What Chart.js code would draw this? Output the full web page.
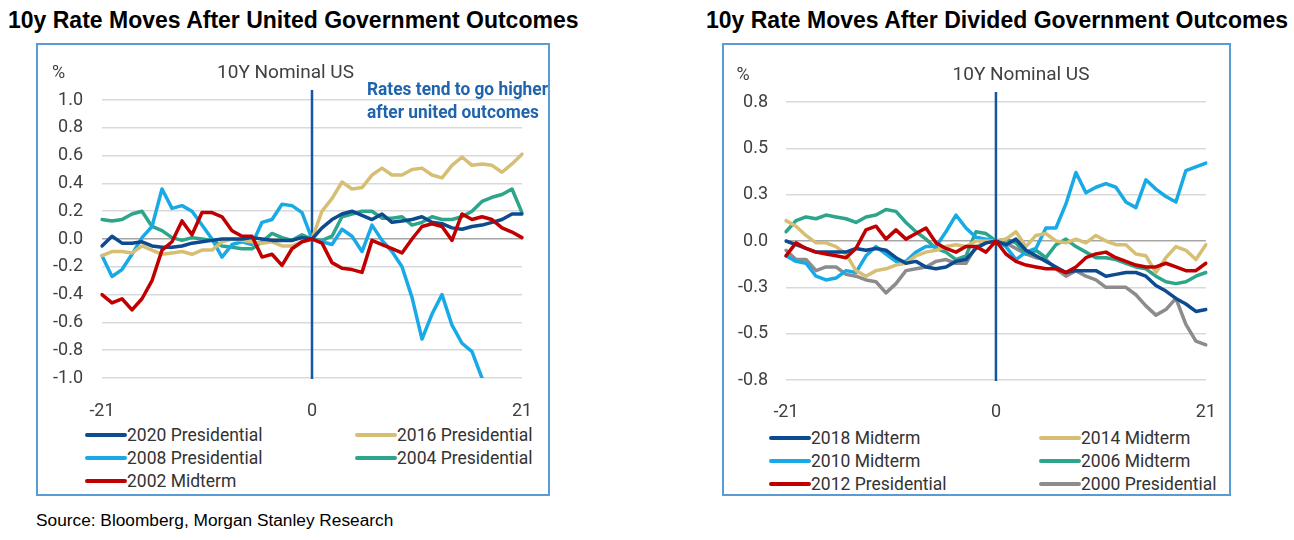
<!DOCTYPE html>
<html>
<head>
<meta charset="utf-8">
<script src="https://cdn.jsdelivr.net/npm/chart.js@4.4.1/dist/chart.umd.min.js"></script>
<style>
  body { margin: 0; width: 1294px; height: 540px; background: #fff; position: relative; overflow: hidden; font-family: Roboto, sans-serif; }
  .title { position: absolute; top: 7px; font: bold 23px "Liberation Sans", Arial, sans-serif; color: #000; white-space: nowrap; }
  .box { position: absolute; box-sizing: border-box; border: 2px solid #5b9bd5; }
  canvas { position: absolute; }
  .leg { position: absolute; font-size: 17.5px; color: #333; white-space: nowrap; line-height: 20px; }
  .leg span { display: inline-block; width: 42px; height: 4px; border-radius: 2px; vertical-align: middle; margin-top: -2px; }
  #source { position: absolute; left: 36px; top: 510px; font: 17.3px "Liberation Sans", Arial, sans-serif; color: #000; }
</style>
</head>
<body>
<div class="title" style="left:8px">10y Rate Moves After United Government Outcomes</div>
<div class="title" style="left:706px">10y Rate Moves After Divided Government Outcomes</div>
<div class="box" style="left:36px; top:43px; width:514px; height:453px"></div>
<div class="box" style="left:722px; top:43px; width:509px; height:453px"></div>
<canvas id="unitedChart" width="513" height="380" style="left:36px; top:44px"></canvas>
<canvas id="dividedChart" width="508" height="380" style="left:722px; top:44px"></canvas>
<div id="source">Source: Bloomberg, Morgan Stanley Research</div>

<script>
// Days around the election (x axis)
const days = [-21, -20, -19, -18, -17, -16, -15, -14, -13, -12, -11, -10, -9, -8, -7, -6, -5, -4, -3, -2, -1,
  0, 1, 2, 3, 4, 5, 6, 7, 8, 9, 10, 11, 12, 13, 14, 15, 16, 17, 18, 19, 20, 21]
const dayTicks = [-21, 0, 21]

// United government outcomes (% change in 10y yield)
const pres2020 = [-0.05, 0.02, -0.03, -0.03, -0.02, -0.05, -0.06, -0.06, -0.05, -0.03, -0.02, -0.01, 0, 0, 0, 0.01, 0, -0.01, -0.01, -0.01, 0.01,
  0, 0.08, 0.14, 0.18, 0.2, 0.17, 0.14, 0.18, 0.12, 0.13, 0.14, 0.16, 0.12, 0.11, 0.08, 0.07, 0.09, 0.1, 0.12, 0.14, 0.18, 0.18]
const pres2016 = [-0.12, -0.09, -0.09, -0.1, -0.05, -0.08, -0.11, -0.1, -0.09, -0.11, -0.08, -0.08, -0.02, 0, -0.01, -0.02, -0.03, -0.02, -0.05, -0.05, -0.02,
  0, 0.2, 0.29, 0.41, 0.36, 0.37, 0.46, 0.51, 0.46, 0.46, 0.5, 0.51, 0.46, 0.44, 0.53, 0.59, 0.53, 0.54, 0.53, 0.48, 0.54, 0.61]
const pres2008 = [-0.12, -0.27, -0.22, -0.11, 0.01, 0.09, 0.36, 0.22, 0.24, 0.2, 0.1, 0, -0.13, -0.04, -0.02, -0.04, 0.12, 0.14, 0.25, 0.24, 0.19,
  0, -0.02, -0.04, 0.07, 0.02, -0.09, 0.1, -0.01, -0.09, -0.2, -0.42, -0.72, -0.54, -0.4, -0.62, -0.75, -0.81, -1.0, -1.1, -1.12, -1.08, -1.02]
const pres2004 = [0.14, 0.13, 0.14, 0.18, 0.2, 0.09, 0.06, 0.01, -0.01, 0.01, 0, -0.01, -0.05, -0.06, -0.07, -0.07, -0.02, 0.04, 0.01, -0.01, 0.03,
  0, -0.01, 0.02, 0.16, 0.18, 0.2, 0.2, 0.15, 0.15, 0.16, 0.1, 0.12, 0.16, 0.14, 0.14, 0.16, 0.2, 0.27, 0.3, 0.32, 0.36, 0.19]
const mid2002 = [-0.4, -0.46, -0.43, -0.51, -0.43, -0.3, -0.08, -0.02, 0.13, 0.03, 0.19, 0.19, 0.16, 0.06, 0.02, 0.02, -0.13, -0.11, -0.19, -0.07, -0.02,
  0, -0.03, -0.17, -0.21, -0.22, -0.24, -0.01, -0.04, -0.07, -0.1, 0, 0.09, 0.11, 0.09, -0.01, 0.18, 0.14, 0.16, 0.14, 0.08, 0.05, 0.01]

// Divided government outcomes
const mid2018 = [0, -0.02, -0.04, -0.06, -0.06, -0.06, -0.06, -0.04, -0.05, -0.04, -0.05, -0.09, -0.12, -0.11, -0.14, -0.15, -0.14, -0.11, -0.1, -0.04, -0.01,
  0, -0.02, 0.01, -0.05, -0.08, -0.11, -0.14, -0.17, -0.16, -0.16, -0.16, -0.19, -0.18, -0.17, -0.17, -0.19, -0.24, -0.27, -0.31, -0.34, -0.38, -0.37]
const mid2014 = [0.11, 0.08, 0.03, -0.01, -0.01, -0.03, -0.07, -0.16, -0.19, -0.16, -0.15, -0.13, -0.12, -0.08, -0.06, -0.05, -0.03, -0.02, -0.03, 0, 0,
  0, 0.01, 0.05, -0.03, 0.03, 0.04, 0, -0.01, 0.01, -0.01, 0.03, 0, -0.02, -0.02, -0.07, -0.08, -0.17, -0.09, -0.03, -0.05, -0.1, -0.02]
const mid2010 = [-0.08, -0.11, -0.12, -0.19, -0.21, -0.2, -0.16, -0.17, -0.08, -0.03, -0.07, -0.11, -0.11, -0.06, -0.03, -0.03, 0.05, 0.14, 0.07, 0.02, 0.01,
  0, -0.03, -0.1, -0.06, -0.04, 0.07, 0.07, 0.2, 0.37, 0.26, 0.29, 0.31, 0.29, 0.21, 0.18, 0.33, 0.28, 0.24, 0.21, 0.38, 0.4, 0.42]
const mid2006 = [0.05, 0.11, 0.13, 0.12, 0.14, 0.13, 0.12, 0.1, 0.13, 0.14, 0.17, 0.16, 0.1, 0.05, 0.01, -0.04, -0.06, -0.1, -0.08, 0.05, 0.04,
  0, 0.01, -0.01, -0.07, -0.05, -0.09, -0.02, 0.01, -0.03, -0.06, -0.09, -0.09, -0.1, -0.12, -0.14, -0.15, -0.19, -0.22, -0.23, -0.22, -0.19, -0.17]
const pres2012 = [-0.08, -0.01, -0.04, -0.06, -0.07, -0.08, -0.09, -0.04, 0.06, 0.08, 0.01, 0.06, 0.01, 0.04, 0.07, -0.01, -0.04, -0.06, -0.03, -0.03, -0.06,
  0, -0.07, -0.11, -0.13, -0.14, -0.15, -0.15, -0.17, -0.14, -0.09, -0.07, -0.06, -0.09, -0.11, -0.13, -0.14, -0.14, -0.12, -0.14, -0.16, -0.16, -0.12]
const pres2000 = [-0.05, -0.1, -0.1, -0.16, -0.14, -0.14, -0.18, -0.19, -0.21, -0.22, -0.28, -0.23, -0.16, -0.15, -0.14, -0.11, -0.1, -0.12, -0.12, -0.03, -0.01,
  0, -0.01, -0.04, -0.07, -0.09, -0.1, -0.15, -0.19, -0.16, -0.19, -0.21, -0.25, -0.25, -0.25, -0.29, -0.35, -0.4, -0.37, -0.31, -0.45, -0.54, -0.56]

// Colours
const navy = '#0d4b91'
const tan = '#d6bf74'
const sky = '#17aae6'
const green = '#2ca58a'
const red = '#c00000'
const grey = '#8c8c8c'

// Legend order (row by row, two columns)
const unitedSeries = [
  { label: '2020 Presidential', data: pres2020, color: navy },
  { label: '2016 Presidential', data: pres2016, color: tan },
  { label: '2008 Presidential', data: pres2008, color: sky },
  { label: '2004 Presidential', data: pres2004, color: green },
  { label: '2002 Midterm', data: mid2002, color: red }
]
const dividedSeries = [
  { label: '2018 Midterm', data: mid2018, color: navy },
  { label: '2014 Midterm', data: mid2014, color: tan },
  { label: '2010 Midterm', data: mid2010, color: sky },
  { label: '2006 Midterm', data: mid2006, color: green },
  { label: '2012 Presidential', data: pres2012, color: red },
  { label: '2000 Presidential', data: pres2000, color: grey }
]

// Draws "%", the panel name, the zero-day line and the note
const panelText = {
  id: 'panelText',
  beforeDatasetsDraw(chart, args, opts) {
    const { ctx, chartArea, scales } = chart
    const x0 = scales.x.getPixelForValue(days.indexOf(0))
    ctx.save()
    ctx.strokeStyle = '#12579f'
    ctx.lineWidth = 2.5
    ctx.beginPath()
    ctx.moveTo(x0, chartArea.top - 10)
    ctx.lineTo(x0, chartArea.bottom + 1)
    ctx.stroke()
    ctx.restore()
  },
  afterDraw(chart, args, opts) {
    const ctx = chart.ctx
    ctx.save()
    ctx.fillStyle = '#404040'
    ctx.textBaseline = 'middle'
    ctx.textAlign = 'center'
    ctx.font = '18px Roboto'
    ctx.fillText('%', opts.pctX, opts.textY)
    ctx.font = '19px Roboto'
    ctx.fillText('10Y Nominal US', opts.nameX, opts.textY)
    if (opts.note) {
      // condensed bold look
      ctx.font = 'bold 19px Roboto'
      ctx.fillStyle = '#1f64ad'
      ctx.textAlign = 'left'
      const sx = opts.noteWidth / ctx.measureText(opts.note[0]).width
      opts.note.forEach((line, i) => {
        ctx.save()
        ctx.translate(opts.noteX, opts.noteY + i * 23.5)
        ctx.scale(sx, 1)
        ctx.fillText(line, 0, 0)
        ctx.restore()
      })
    }
    ctx.restore()
  }
}

function makeChart(id, series, yMin, yMax, step, geo) {
  // first dataset is drawn on top, so put red first
  const drawOrder = [...series].sort((a, b) => (a.color === red ? -1 : 0) - (b.color === red ? -1 : 0))
  return new Chart(document.getElementById(id), {
    type: 'line',
    data: {
      labels: days,
      datasets: drawOrder.map(s => ({
        label: s.label,
        data: s.data,
        borderColor: s.color,
        borderWidth: 3.5,
        pointRadius: 0,
        tension: 0,
        borderJoinStyle: 'round',
        borderCapStyle: 'round'
      }))
    },
    options: {
      responsive: false,
      animation: false,
      devicePixelRatio: 1,
      layout: { padding: { left: 0, right: geo.padRight, top: geo.padTop, bottom: 0 } },
      scales: {
        x: {
          grid: { display: false },
          border: { display: false },
          ticks: {
            autoSkip: false,
            maxRotation: 0,
            padding: geo.xPad,
            color: '#404040',
            font: { family: 'Roboto', size: 18 },
            callback: function (val) {
              const d = days[val]
              return dayTicks.includes(d) ? String(d) : ''
            }
          },
          afterFit: scale => { scale.height = geo.xHeight }
        },
        y: {
          min: yMin,
          max: yMax,
          border: { display: false },
          grid: {
            drawTicks: false,
            lineWidth: 1.5,
            color: ctx => (Math.abs(ctx.tick.value) < 1e-9 ? '#a6a6a6' : '#d9d9d9')
          },
          ticks: {
            stepSize: step,
            padding: geo.yPad,
            color: '#404040',
            font: { family: 'Roboto', size: 18 },
            callback: v => (Math.abs(v) < 1e-9 ? '0.0' : v.toFixed(1))
          },
          afterFit: scale => { scale.width = geo.yWidth }
        }
      },
      plugins: {
        legend: { display: false },
        tooltip: { enabled: false },
        panelText: geo.text
      }
    },
    plugins: [panelText]
  })
}

makeChart('unitedChart', unitedSeries, -1, 1, 0.2, {
  padRight: 27, padTop: 56, xPad: 15, xHeight: 46, yPad: 19, yWidth: 66,
  text: {
    pctX: 22.5, nameX: 249.5, textY: 29.5,
    note: ['Rates tend to go higher', 'after united outcomes'],
    noteX: 331, noteY: 46, noteWidth: 181
  }
})

makeChart('dividedChart', dividedSeries, -0.75, 0.75, 0.25, {
  padRight: 24, padTop: 58, xPad: 14, xHeight: 44, yPad: 18, yWidth: 64,
  text: { pctX: 21, nameX: 299, textY: 31 }
})

// HTML legends, two columns
function makeLegend(series, colX, rowY) {
  series.forEach((s, i) => {
    const el = document.createElement('div')
    el.className = 'leg'
    el.style.left = colX[i % 2] + 'px'
    el.style.top = (rowY + Math.floor(i / 2) * 23 - 10) + 'px'
    el.innerHTML = `<span style="background:${s.color}"></span>${s.label}`
    document.body.appendChild(el)
  })
}
makeLegend(unitedSeries, [85, 355], 435)
makeLegend(dividedSeries, [769, 1039], 438)
</script>
</body>
</html>
